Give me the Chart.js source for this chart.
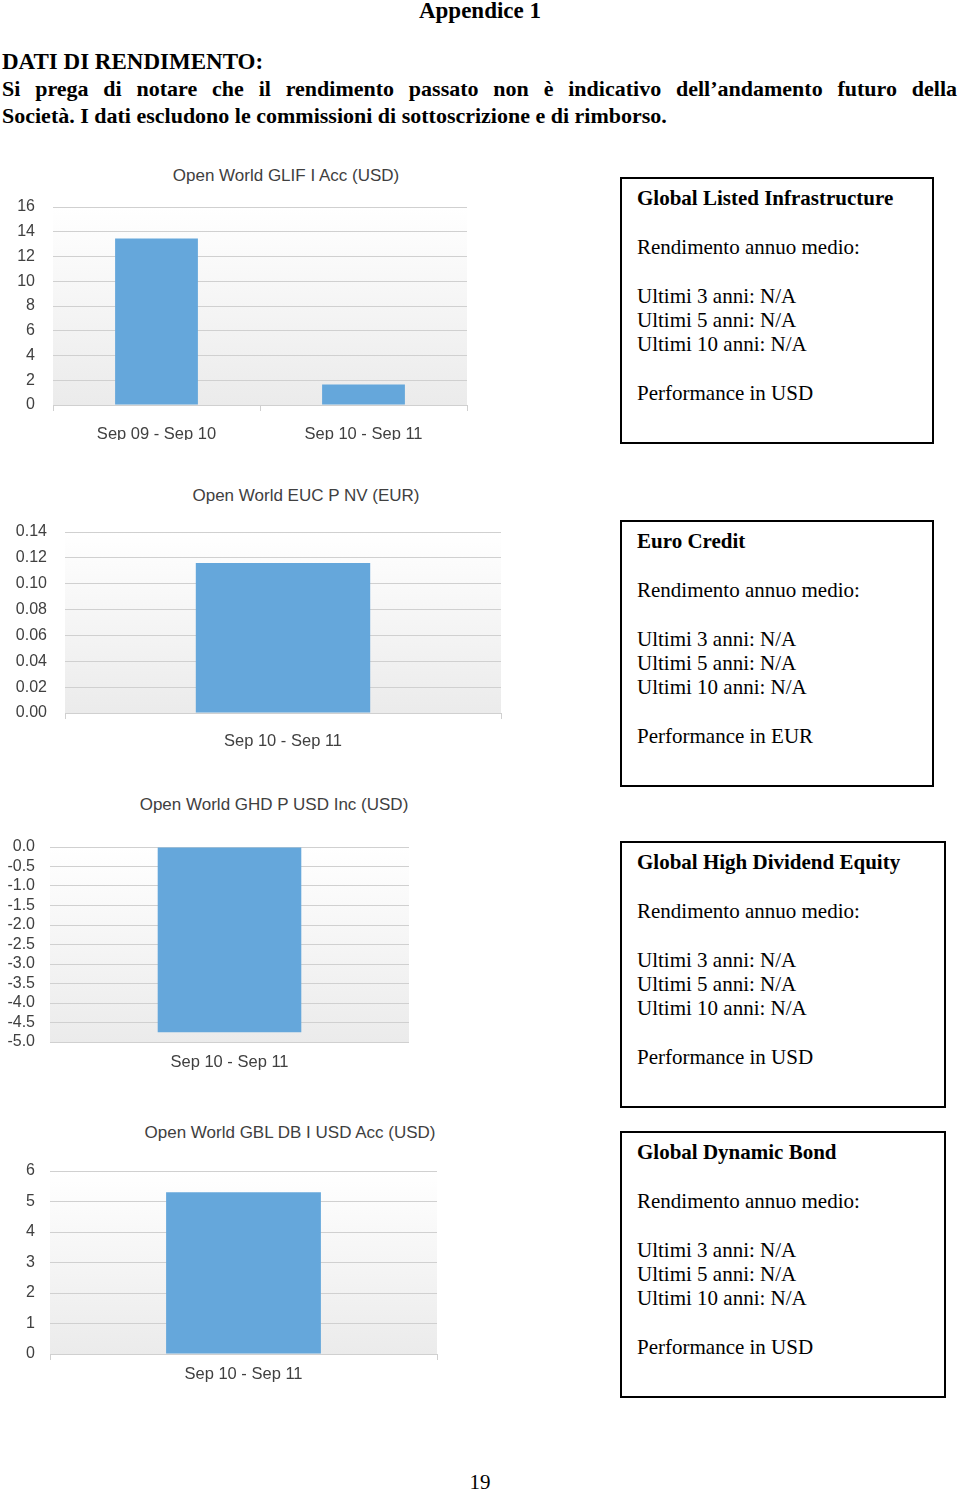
<!DOCTYPE html>
<html>
<head>
<meta charset="utf-8">
<script src="https://cdn.jsdelivr.net/npm/chart.js@4"></script>
<style>
  body { margin: 0; background: #fff; width: 960px; height: 1493px; position: relative; overflow: hidden; }
  .serif { font-family: "Liberation Serif", "Times New Roman", serif; color: #000; position: absolute; }
  .head { font-weight: bold; font-size: 23px; line-height: 27px; }
  .para { left: 2px; width: 955px; font-size: 22px; }
  .box { position: absolute; left: 620px; width: 295px; height: 256px; border: 2px solid #000; padding: 7px 0 0 15px; box-sizing: content-box;
         font-family: "Liberation Serif", "Times New Roman", serif; font-size: 21px; line-height: 24.4px; color: #000; }
  .box b { display: block; }
  .ctitle { position: absolute; width: 400px; text-align: center; font-family: "Liberation Sans", Arial, sans-serif;
            font-size: 17px; line-height: 20px; color: #404040; }
  .wrap { position: absolute; left: 0; }
</style>
</head>
<body>
<div class="serif head" style="left:0;width:960px;text-align:center;top:-3px;">Appendice 1</div>
<div class="serif head" style="left:2px;top:48px;">DATI DI RENDIMENTO:</div>
<div class="serif head para" style="top:75px;text-align:justify;text-align-last:justify;">Si prega di notare che il rendimento passato non è indicativo dell’andamento futuro della</div>
<div class="serif head para" style="top:102px;">Società. I dati escludono le commissioni di sottoscrizione e di rimborso.</div>

<div class="ctitle" style="left:86px;top:166px;">Open World GLIF I Acc (USD)</div>
<div class="wrap" style="top:190px;"><canvas id="glif" width="480" height="250"></canvas></div>
<div class="box" style="top:177px;"><b>Global Listed Infrastructure</b><br>Rendimento annuo medio:<br><br>Ultimi 3 anni: N/A<br>Ultimi 5 anni: N/A<br>Ultimi 10 anni: N/A<br><br>Performance in USD</div>

<div class="ctitle" style="left:106px;top:486px;">Open World EUC P NV (EUR)</div>
<div class="wrap" style="top:515px;"><canvas id="euc" width="520" height="245"></canvas></div>
<div class="box" style="top:520px;"><b>Euro Credit</b><br>Rendimento annuo medio:<br><br>Ultimi 3 anni: N/A<br>Ultimi 5 anni: N/A<br>Ultimi 10 anni: N/A<br><br>Performance in EUR</div>

<div class="ctitle" style="left:74px;top:795px;">Open World GHD P USD Inc (USD)</div>
<div class="wrap" style="top:830px;"><canvas id="ghd" width="430" height="255"></canvas></div>
<div class="box" style="top:841px;width:307px;"><b>Global High Dividend Equity</b><br>Rendimento annuo medio:<br><br>Ultimi 3 anni: N/A<br>Ultimi 5 anni: N/A<br>Ultimi 10 anni: N/A<br><br>Performance in USD</div>

<div class="ctitle" style="left:90px;top:1123px;">Open World GBL DB I USD Acc (USD)</div>
<div class="wrap" style="top:1154px;"><canvas id="gbl" width="450" height="240"></canvas></div>
<div class="box" style="top:1131px;width:307px;"><b>Global Dynamic Bond</b><br>Rendimento annuo medio:<br><br>Ultimi 3 anni: N/A<br>Ultimi 5 anni: N/A<br>Ultimi 10 anni: N/A<br><br>Performance in USD</div>

<div class="serif" style="left:0;width:960px;text-align:center;top:1470px;font-size:21px;line-height:24px;">19</div>

<script>
// Open World GLIF I Acc (USD)
const glifLabels = ['Sep 09 - Sep 10', 'Sep 10 - Sep 11'];
const glifValues = [13.45, 1.65];
// Open World EUC P NV (EUR)
const eucLabels = ['Sep 10 - Sep 11'];
const eucValues = [0.116];
// Open World GHD P USD Inc (USD)
const ghdLabels = ['Sep 10 - Sep 11'];
const ghdValues = [-4.75];
// Open World GBL DB I USD Acc (USD)
const gblLabels = ['Sep 10 - Sep 11'];
const gblValues = [5.3];

const barColor = '#65a7db';
const gridColor = '#d0d0d0';
const textColor = '#404040';

Chart.defaults.font.family = '"Liberation Sans", Arial, sans-serif';
Chart.defaults.font.size = 16;
Chart.defaults.color = textColor;

// white-to-grey plot background, like the Excel charts
const plotBackground = {
    id: 'plotBackground',
    beforeDraw(chart) {
        const a = chart.chartArea;
        const c = chart.ctx;
        const g = c.createLinearGradient(0, a.top, 0, a.bottom);
        g.addColorStop(0, '#ffffff');
        g.addColorStop(1, '#ebebeb');
        c.save();
        c.fillStyle = g;
        c.fillRect(a.left, a.top, a.right - a.left, a.bottom - a.top);
        c.restore();
    }
};

drawBarChart = (id, labels, values, s) => {
    new Chart(document.getElementById(id).getContext('2d'), {
        type: 'bar',
        data: {
            labels: labels,
            datasets: [{
                data: values,
                backgroundColor: barColor,
                borderWidth: 0,
                barPercentage: 0.4,
                categoryPercentage: 1
            }]
        },
        options: {
            responsive: false,
            animation: false,
            devicePixelRatio: 1,
            layout: { padding: { top: 17, right: s.padRight, left: 0, bottom: 0 } },
            plugins: { legend: { display: false }, tooltip: { enabled: false } },
            scales: {
                x: {
                    grid: { offset: true, drawOnChartArea: false, drawTicks: s.xTicks, tickLength: 6, color: gridColor },
                    border: { display: s.xTicks, color: gridColor },
                    ticks: { padding: s.xPad, color: textColor, font: { size: 16.5 } },
                    afterFit: (scale) => { scale.height = s.xHeight; }
                },
                y: {
                    min: s.min,
                    max: s.max,
                    // invisible tick marks keep the labels away from the plot
                    grid: { color: gridColor, drawTicks: true, tickLength: s.yPad, tickColor: 'rgba(0,0,0,0)' },
                    border: { display: false },
                    ticks: {
                        stepSize: s.step,
                        autoSkip: false,
                        padding: 0,
                        color: textColor,
                        callback: (v) => Number(v).toFixed(s.decimals)
                    },
                    afterFit: (scale) => { scale.width = s.yWidth; }
                }
            }
        },
        plugins: [plotBackground]
    });
}

drawBarChart('glif', glifLabels, glifValues,
    { min: 0, max: 16, step: 2, decimals: 0, padRight: 13, yWidth: 53, yPad: 18, xHeight: 35, xPad: 14, xTicks: true });
drawBarChart('euc', eucLabels, eucValues,
    { min: 0, max: 0.14, step: 0.02, decimals: 2, padRight: 19, yWidth: 65, yPad: 18, xHeight: 47, xPad: 13, xTicks: true });
drawBarChart('ghd', ghdLabels, ghdValues,
    { min: -5, max: 0, step: 0.5, decimals: 1, padRight: 21, yWidth: 50, yPad: 15, xHeight: 43, xPad: 11, xTicks: false });
drawBarChart('gbl', gblLabels, gblValues,
    { min: 0, max: 6, step: 1, decimals: 0, padRight: 13, yWidth: 50, yPad: 15, xHeight: 40, xPad: 5, xTicks: true });
</script>
</body>
</html>
